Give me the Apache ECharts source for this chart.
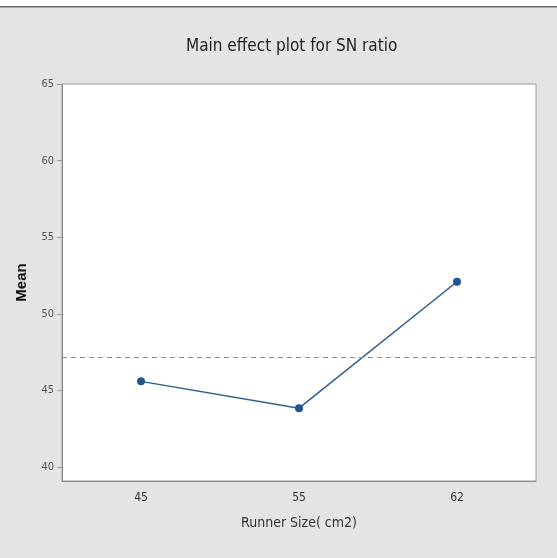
<!DOCTYPE html>
<html>
<head>
<meta charset="utf-8">
<script src="https://cdn.jsdelivr.net/npm/echarts@6/dist/echarts.min.js"></script>
<style>
  html, body { margin: 0; padding: 0; background: #fff; }
  #chart { width: 557px; height: 558px; }
</style>
</head>
<body>
<div id="chart"></div>
<script>
// runner size levels and mean SN ratio
var runnerSizes = ['45', '55', '62'];
var meanValues = [45.6, 43.85, 52.1];
var overallMean = 47.15;
var yTicks = [40, 45, 50, 55, 60, 65];

var narrow = "'Liberation Sans Narrow', 'DejaVu Sans Condensed', 'Noto Sans', sans-serif";

var chart = echarts.init(document.getElementById('chart'));

var option = {
    animation: false,
    backgroundColor: '#e4e4e4',
    title: {
        text: 'Main effect plot for SN ratio',
        left: 181,
        top: 33,
        textStyle: {
            fontFamily: narrow,
            fontSize: 17,
            fontWeight: 'normal',
            color: '#1e1e1e'
        }
    },
    graphic: [
        // white strip and dark rule at the top of the frame
        {type: 'rect', left: 0, top: 0, shape: {width: 557, height: 6}, style: {fill: '#fff'}},
        {type: 'rect', left: 0, top: 6, shape: {width: 557, height: 1.5}, style: {fill: '#6e6e6e'}}
    ],
    grid: {
        left: 62,
        right: 21,
        top: 84,
        bottom: 77,
        show: true,
        backgroundColor: '#fff',
        borderColor: '#9a9a9a',
        borderWidth: 1
    },
    xAxis: {
        type: 'category',
        data: runnerSizes,
        boundaryGap: true,
        name: 'Runner Size( cm2)',
        nameLocation: 'middle',
        nameGap: 35,
        nameTextStyle: {fontFamily: narrow, fontSize: 14, color: '#333'},
        axisLine: {lineStyle: {color: '#8a8a8a'}},
        axisTick: {alignWithLabel: true, length: 8, lineStyle: {color: '#aaa'}},
        axisLabel: {fontFamily: narrow, fontSize: 12, color: '#333', margin: 11},
        splitLine: {show: false}
    },
    yAxis: {
        type: 'value',
        min: 39.1,
        max: 65,
        name: 'Mean',
        nameLocation: 'middle',
        nameGap: 33,
        nameTextStyle: {fontFamily: 'Liberation Sans, Arial, sans-serif', fontSize: 15, fontWeight: 'bold', color: '#111'},
        axisLine: {show: true, lineStyle: {color: '#8a8a8a'}},
        axisTick: {show: true, length: 5, customValues: yTicks, lineStyle: {color: '#999'}},
        axisLabel: {fontFamily: narrow, fontSize: 11, color: '#555', margin: 8, customValues: yTicks},
        splitLine: {show: false}
    },
    series: [
        {
            name: 'Mean',
            type: 'line',
            data: meanValues,
            symbol: 'circle',
            symbolSize: 8,
            itemStyle: {color: '#1f5590'},
            lineStyle: {color: '#2c5d8f', width: 1.5},
            markLine: {
                silent: true,
                symbol: 'none',
                label: {show: false},
                lineStyle: {color: '#8c8c8c', type: [5, 4], width: 1},
                data: [{yAxis: overallMean}]
            }
        }
    ]
};

chart.setOption(option);
</script>
</body>
</html>
